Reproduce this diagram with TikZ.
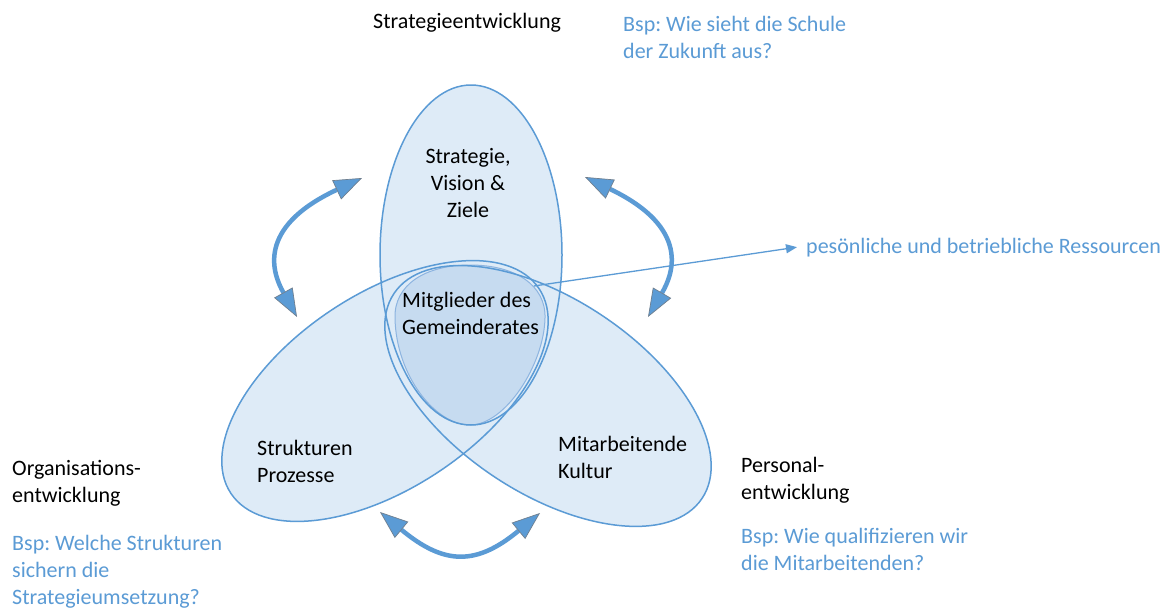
\documentclass[tikz,border=0pt]{standalone}
\usepackage{fontspec}
\setmainfont{Carlito}
\usetikzlibrary{arrows.meta}
\definecolor{ebl}{HTML}{5B9BD5}
\definecolor{efill}{HTML}{DEEBF7}
\definecolor{cfill}{HTML}{C6DBF0}
\definecolor{cline}{HTML}{8DB4E0}
\definecolor{hshadow}{HTML}{6F7F8F}
\frenchspacing
\newcommand{\myleft}[1]{\begin{tabular}[t]{@{}l@{}}#1\end{tabular}}
\newcommand{\mycent}[1]{\begin{tabular}[t]{@{}c@{}}#1\end{tabular}}
\tikzset{
  bighead/.tip={Triangle[length=28pt,width=21pt,fill=ebl,color=hshadow,line width=0.7pt]},
  smallhead/.tip={Triangle[length=11pt,width=9pt,fill=ebl,color=ebl]},
}
\begin{document}
\begin{tikzpicture}[x=1pt,y=-1pt,
  txt/.style={inner sep=0pt, font=\fontsize{22}{27}\selectfont\frenchspacing, text=black, anchor=base west},
  btxt/.style={txt, text=ebl},
  ellout/.style={draw=ebl, line width=1.5pt},
  bigarrow/.style={draw=ebl, line width=4.5pt, bighead-bighead},
  pointer/.style={draw=ebl, line width=1.3pt, -smallhead},
]
\fill[white] (0,0) rectangle (1167,608);
\useasboundingbox (0,0) rectangle (1167,608);

% ellipse centres
\coordinate (cT) at (471,255);
\coordinate (cL) at (385,391);
\coordinate (cR) at (548,396);

% fills
\fill[efill] (cT) ellipse [x radius=91pt, y radius=170pt];
\fill[efill, rotate around={33.6:(cL)}] (cL) ellipse [x radius=185pt, y radius=97pt];
\fill[efill, rotate around={-33.6:(cR)}] (cR) ellipse [x radius=185pt, y radius=97pt];

% centre region
\filldraw[fill=cfill, draw=cline, line width=1pt]
  (470,265) .. controls (515,265) and (546,285) .. (545,318)
  .. controls (544,365) and (505,425) .. (470,425)
  .. controls (435,425) and (396,375) .. (395,318)
  .. controls (394,285) and (425,265) .. (470,265) -- cycle;

% outlines
\draw[ellout] (cT) ellipse [x radius=91pt, y radius=170pt];
\draw[ellout, rotate around={33.6:(cL)}] (cL) ellipse [x radius=185pt, y radius=97pt];
\draw[ellout, rotate around={-33.6:(cR)}] (cR) ellipse [x radius=185pt, y radius=97pt];

% texts
\node[txt] (strat) at (373,28) {Strategieentwicklung};
\node[btxt] (bsp1) at (623,31) {\myleft{Bsp: Wie sieht die Schule\\der Zukunft aus?}};
\node[txt, anchor=base] (svz) at (468,163) {\mycent{Strategie,\\Vision \&\\Ziele}};
\node[txt] (mgr) at (402,307) {\myleft{Mitglieder des\\Gemeinderates}};
\node[btxt, inner xsep=9pt] (restext) at (797,253) {pesönliche und betriebliche Ressourcen};
\node[txt] (sp) at (257,455) {\myleft{Strukturen\\Prozesse}};
\node[txt] (mk) at (558,451) {\myleft{Mitarbeitende\\Kultur}};
\node[txt] (orga) at (12,475) {\myleft{Organisations-\\entwicklung}};
\node[btxt] (bsp2) at (12,550) {\myleft{Bsp: Welche Strukturen\\sichern die\\Strategieumsetzung?}};
\node[txt] (pers) at (741,472) {\myleft{Personal-\\entwicklung}};
\node[btxt] (bsp3) at (741,543) {\myleft{Bsp: Wie qualifizieren wir\\die Mitarbeitenden?}};

% pointer
\coordinate (resstart) at (534,286);
\draw[pointer] (resstart) -- (restext.west);

% curved double arrows
\coordinate (aLt) at (362,178);
\coordinate (aLb) at (297,317);
\coordinate (aRt) at (585,177);
\coordinate (aRb) at (648,317);
\coordinate (aBl) at (380,512);
\coordinate (aBr) at (540,513);
\draw[bigarrow] (aLt) .. controls (255,228) and (273,274) .. (aLb);
\draw[bigarrow] (aRt) .. controls (691,228) and (673,274) .. (aRb);
\draw[bigarrow] (aBl) .. controls (444,565) and (476,566) .. (aBr);
\end{tikzpicture}
\end{document}
